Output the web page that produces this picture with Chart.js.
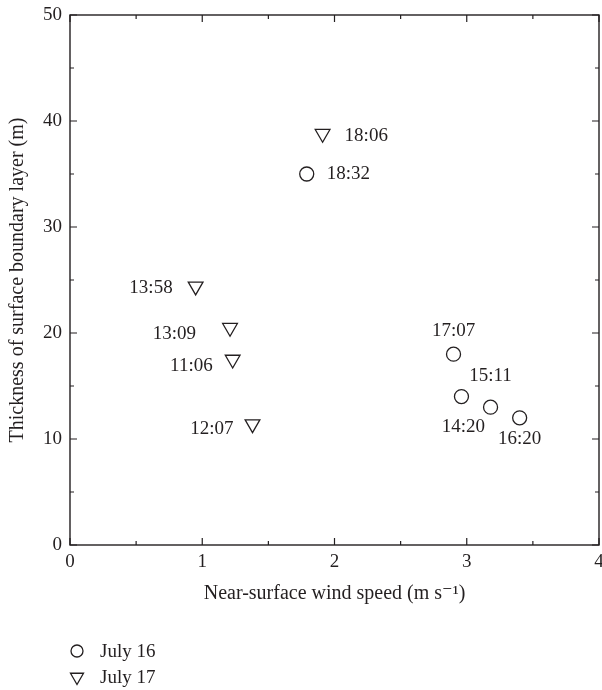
<!DOCTYPE html>
<html>
<head>
<meta charset="utf-8">
<script src="https://cdn.jsdelivr.net/npm/chart.js@4"></script>
<style>
  html, body { margin: 0; padding: 0; background: #fff; }
  #wrap { width: 602px; height: 690px; position: relative; }
</style>
</head>
<body>
<div id="wrap"><canvas id="chart"></canvas></div>
<script>
// July 16 (circles)
const july16Speed = [1.79, 2.90, 2.96, 3.18, 3.40];
const july16Depth = [35.0, 18.0, 14.0, 13.0, 12.0];
const july16Times = ['18:32', '17:07', '14:20', '15:11', '16:20'];

// July 17 (down triangles)
const july17Speed = [1.91, 0.95, 1.21, 1.23, 1.38];
const july17Depth = [38.8, 24.4, 20.5, 17.5, 11.4];
const july17Times = ['18:06', '13:58', '13:09', '11:06', '12:07'];

const xTicks = [0, 1, 2, 3, 4];
const yTicks = [0, 10, 20, 30, 40, 50];

const ink = '#231f20';
const serif = "'Liberation Serif', 'DejaVu Serif', serif";

// where each time label sits relative to its marker
const labelPos = {
  '18:32': { dx: 20, dy: 0, align: 'left' },
  '17:07': { dx: 0, dy: -23, align: 'center' },
  '14:20': { dx: 2, dy: 30, align: 'center' },
  '15:11': { dx: 0, dy: -31, align: 'center' },
  '16:20': { dx: 0, dy: 21, align: 'center' },
  '18:06': { dx: 22, dy: 2, align: 'left' },
  '13:58': { dx: -23, dy: 2, align: 'right' },
  '13:09': { dx: -34, dy: 6, align: 'right' },
  '11:06': { dx: -20, dy: 7, align: 'right' },
  '12:07': { dx: -19, dy: 5, align: 'right' },
};

function toPoints(xs, ys) {
  return xs.map((x, i) => ({ x, y: ys[i] }));
}

const frameAndTicks = {
  id: 'frameAndTicks',
  afterDatasetsDraw(chart) {
    const { ctx, chartArea: a, scales: { x, y } } = chart;
    ctx.save();
    ctx.strokeStyle = ink;
    ctx.lineWidth = 1.4;
    ctx.strokeRect(a.left, a.top, a.right - a.left, a.bottom - a.top);
    ctx.lineWidth = 1.2;
    ctx.beginPath();
    for (let v = 0; v <= 4.001; v += 0.5) {
      const px = x.getPixelForValue(v);
      const len = Math.abs(v - Math.round(v)) < 1e-6 ? 7 : 4;
      ctx.moveTo(px, a.bottom); ctx.lineTo(px, a.bottom - len);
      ctx.moveTo(px, a.top); ctx.lineTo(px, a.top + len);
    }
    for (let v = 0; v <= 50.001; v += 5) {
      const py = y.getPixelForValue(v);
      const len = v % 10 === 0 ? 7 : 4;
      ctx.moveTo(a.left, py); ctx.lineTo(a.left + len, py);
      ctx.moveTo(a.right, py); ctx.lineTo(a.right - len, py);
    }
    ctx.stroke();

    // time labels
    ctx.fillStyle = ink;
    ctx.font = `19px ${serif}`;
    ctx.textBaseline = 'middle';
    chart.data.datasets.forEach((ds, di) => {
      const meta = chart.getDatasetMeta(di);
      meta.data.forEach((el, i) => {
        const t = ds.times[i];
        const p = labelPos[t];
        ctx.textAlign = p.align;
        ctx.fillText(t, el.x + p.dx, el.y + p.dy);
      });
    });

    // legend
    const h = Chart.helpers;
    const rows = [
      { text: 'July 16', style: 'circle', rot: 0, r: 6, y: 651 },
      { text: 'July 17', style: 'triangle', rot: 180, r: 7.5, y: 677 },
    ];
    ctx.textAlign = 'left';
    ctx.font = `19px ${serif}`;
    rows.forEach(row => {
      ctx.strokeStyle = ink;
      ctx.fillStyle = 'rgba(0,0,0,0)';
      ctx.lineWidth = 1.3;
      h.drawPoint(ctx, { pointStyle: row.style, rotation: row.rot, radius: row.r, borderWidth: 1.3 }, 77, row.y);
      ctx.fillStyle = ink;
      ctx.fillText(row.text, 100, row.y + 1);
    });
    ctx.restore();
  },
};

new Chart(document.getElementById('chart'), {
  type: 'scatter',
  data: {
    datasets: [
      {
        label: 'July 16',
        data: toPoints(july16Speed, july16Depth),
        times: july16Times,
        pointStyle: 'circle',
        pointRadius: 7,
        pointHoverRadius: 7,
        pointBorderWidth: 1.3,
        borderColor: ink,
        backgroundColor: 'rgba(0,0,0,0)',
      },
      {
        label: 'July 17',
        data: toPoints(july17Speed, july17Depth),
        times: july17Times,
        pointStyle: 'triangle',
        pointRotation: 180,
        pointRadius: 8.5,
        pointHoverRadius: 8.5,
        pointBorderWidth: 1.3,
        borderColor: ink,
        backgroundColor: 'rgba(0,0,0,0)',
      },
    ],
  },
  options: {
    responsive: true,
    maintainAspectRatio: false,
    animation: false,
    layout: { autoPadding: false, padding: { top: 15, right: 3, left: 0, bottom: 81 } },
    plugins: {
      legend: { display: false },
      tooltip: { enabled: false },
    },
    scales: {
      x: {
        type: 'linear',
        min: 0,
        max: 4,
        afterBuildTicks: s => { s.ticks = xTicks.map(v => ({ value: v })); },
        afterFit: s => { s.height = 64; s.paddingLeft = 0; s.paddingRight = 0; },
        grid: { display: false, drawTicks: false },
        border: { display: false },
        ticks: { color: ink, padding: 6, font: { family: serif, size: 19 } },
        title: {
          display: true,
          text: 'Near-surface wind speed (m s\u207B\u00B9)',
          color: ink,
          font: { family: serif, size: 20 },
          padding: { top: 0, bottom: 3 },
        },
      },
      y: {
        type: 'linear',
        min: 0,
        max: 50,
        afterBuildTicks: s => { s.ticks = yTicks.map(v => ({ value: v })); },
        afterFit: s => { s.width = 70; s.paddingTop = 0; s.paddingBottom = 0; },
        grid: { display: false, drawTicks: false },
        border: { display: false },
        ticks: { color: ink, padding: 8, font: { family: serif, size: 19 } },
        title: {
          display: true,
          text: 'Thickness of surface boundary layer (m)',
          color: ink,
          font: { family: serif, size: 20 },
          padding: { top: 6, bottom: 0 },
        },
      },
    },
  },
  plugins: [frameAndTicks],
});
</script>
</body>
</html>
